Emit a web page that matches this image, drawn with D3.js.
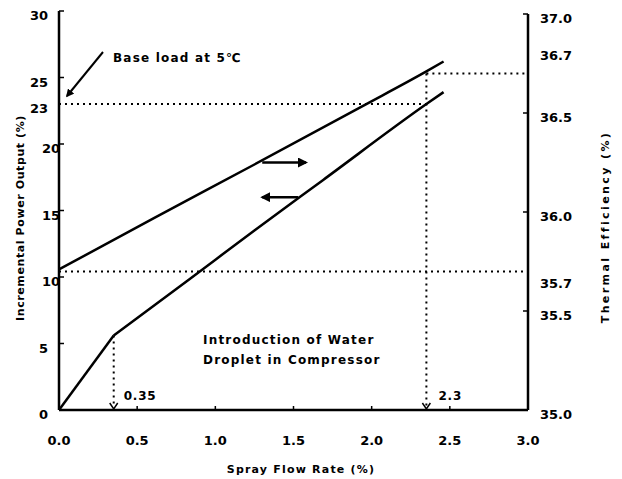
<!DOCTYPE html>
<html>
<head>
<meta charset="utf-8">
<script src="https://cdn.jsdelivr.net/npm/d3@7"></script>
<style>
  body { margin: 0; background: #fff; }
  svg text { font-family: "DejaVu Sans", sans-serif; font-weight: bold; fill: #000; }
</style>
</head>
<body>
<div id="chart"></div>
<script>
// 資料
const sprayRate = [0, 0.35, 0.83, 1.25, 1.69, 2.35, 2.46];
const powerOutput = [0, 5.6, 9.8, 13.5, 17.3, 23.0, 23.9];
const effRate = [0, 0.61, 1.25, 1.93, 2.35, 2.46];
const efficiency = [35.71, 35.97, 36.24, 36.53, 36.71, 36.76];

const xTicks = [0, 0.5, 1.0, 1.5, 2.0, 2.5, 3.0];
const leftTicks = [0, 5, 10, 15, 20, 25, 30];
const rightTicks = [35.0, 35.5, 36.0, 36.5, 37.0];

// 標註
const kinkRate = 0.35, kinkPower = 5.6;
const baseRate = 2.35, basePower = 23, baseEff = 36.7, startEff = 35.7;

const width = 622, height = 479;

const svg = d3.select("#chart")
    .append("svg")
    .attr("width", width)
    .attr("height", height);

const x = d3.scaleLinear().domain([0, 3]).range([59, 528]);
const yL = d3.scaleLinear().domain([0, 30]).range([410, 11]);
const yR = d3.scaleLinear().domain([35, 37]).range([410, 14]);

// 座標軸
const axisStroke = 2.5;
svg.append("line").attr("x1", x(0)).attr("x2", x(0)).attr("y1", yL(30)).attr("y2", yL(0))
    .attr("stroke", "#000").attr("stroke-width", axisStroke);
svg.append("line").attr("x1", x(0)).attr("x2", x(3)).attr("y1", yL(0)).attr("y2", yL(0))
    .attr("stroke", "#000").attr("stroke-width", axisStroke);
svg.append("line").attr("x1", x(3)).attr("x2", x(3)).attr("y1", yR(37)).attr("y2", yR(35))
    .attr("stroke", "#000").attr("stroke-width", axisStroke);

// x 軸刻度
svg.append("g").selectAll("line").data(xTicks.slice(1, -1)).join("line")
    .attr("x1", d => x(d)).attr("x2", d => x(d))
    .attr("y1", yL(0)).attr("y2", yL(0) - 4)
    .attr("stroke", "#000").attr("stroke-width", 1.5);
svg.append("g").selectAll("text").data(xTicks).join("text")
    .attr("x", d => x(d)).attr("y", 445)
    .attr("text-anchor", "middle").attr("font-size", 13)
    .text(d => d.toFixed(1));

// 左軸刻度
svg.append("g").selectAll("line").data(leftTicks.slice(1)).join("line")
    .attr("x1", x(0)).attr("x2", x(0) + 5)
    .attr("y1", d => yL(d)).attr("y2", d => yL(d))
    .attr("stroke", "#000").attr("stroke-width", 1.5);
svg.append("g").selectAll("text").data(leftTicks.concat([basePower])).join("text")
    .attr("x", d => (d >= 10 && d <= 20 ? 60 : 48))
    .attr("y", d => yL(d) + 9)
    .attr("text-anchor", "end").attr("font-size", 13)
    .text(d => d);

// 右軸刻度
svg.append("g").selectAll("line").data(rightTicks.slice(1)).join("line")
    .attr("x1", x(3)).attr("x2", x(3) - 5)
    .attr("y1", d => yR(d)).attr("y2", d => yR(d))
    .attr("stroke", "#000").attr("stroke-width", 1.5);
svg.append("g").selectAll("text").data(rightTicks).join("text")
    .attr("x", 540).attr("y", d => yR(d) + 9)
    .attr("font-size", 13)
    .text(d => d.toFixed(1));
svg.append("text").attr("x", 540).attr("y", yR(baseEff) - 13).attr("font-size", 13).text(baseEff.toFixed(1));
svg.append("text").attr("x", 540).attr("y", yR(startEff) + 17).attr("font-size", 13).text(startEff.toFixed(1));

// 軸標題
svg.append("text").attr("x", 301).attr("y", 473).attr("text-anchor", "middle")
    .attr("font-size", 11).attr("letter-spacing", 1.2).text("Spray Flow Rate (%)");
svg.append("text").attr("transform", "translate(24,218) rotate(-90)").attr("text-anchor", "middle")
    .attr("font-size", 11).attr("letter-spacing", 0.6).text("Incremental Power Output (%)");
svg.append("text").attr("transform", "translate(609,227) rotate(-90)").attr("text-anchor", "middle")
    .attr("font-size", 11).attr("letter-spacing", 2.4).text("Thermal Efficiency (%)");

// 虛線
const dotted = (x1, y1, x2, y2) => svg.append("line")
    .attr("x1", x1).attr("y1", y1).attr("x2", x2).attr("y2", y2)
    .attr("stroke", "#000").attr("stroke-width", 2).attr("stroke-dasharray", "2,4");
dotted(x(0), yL(basePower), x(baseRate), yL(basePower));
dotted(x(baseRate), yR(baseEff), x(3), yR(baseEff));
dotted(x(0), yR(startEff), x(3), yR(startEff));
dotted(x(baseRate), yR(baseEff), x(baseRate), yL(0) - 3);
dotted(x(kinkRate), yL(kinkPower), x(kinkRate), yL(0) - 3);

// 小箭頭
[kinkRate, baseRate].forEach(r => {
    svg.append("path")
        .attr("d", `M${x(r) - 4},${yL(0) - 7}L${x(r)},${yL(0) - 1}L${x(r) + 4},${yL(0) - 7}`)
        .attr("fill", "none").attr("stroke", "#000").attr("stroke-width", 1.5);
});
svg.append("text").attr("x", x(kinkRate) + 10).attr("y", 400).attr("font-size", 12)
    .attr("letter-spacing", 0.8).text(kinkRate.toFixed(2));
svg.append("text").attr("x", x(baseRate) + 12).attr("y", 400).attr("font-size", 12)
    .attr("letter-spacing", 0.8).text("2.3");

// 曲線
const line = d3.line().curve(d3.curveMonotoneX);
svg.append("path")
    .attr("d", d3.line()(sprayRate.slice(0, 2).map((r, i) => [x(r), yL(powerOutput[i])])))
    .attr("fill", "none").attr("stroke", "#000").attr("stroke-width", 2.5);
svg.append("path")
    .attr("d", line(sprayRate.slice(1).map((r, i) => [x(r), yL(powerOutput[i + 1])])))
    .attr("fill", "none").attr("stroke", "#000").attr("stroke-width", 2.5);
svg.append("path")
    .attr("d", line(effRate.map((r, i) => [x(r), yR(efficiency[i])])))
    .attr("fill", "none").attr("stroke", "#000").attr("stroke-width", 2.5);

// 箭頭
svg.append("defs").append("marker")
    .attr("id", "head").attr("viewBox", "0 0 10 10")
    .attr("refX", 8).attr("refY", 5)
    .attr("markerWidth", 4).attr("markerHeight", 4)
    .attr("orient", "auto-start-reverse")
    .append("path").attr("d", "M0,0L10,5L0,10z").attr("fill", "#000");

const arrow = (x1, y1, x2, y2, w) => svg.append("line")
    .attr("x1", x1).attr("y1", y1).attr("x2", x2).attr("y2", y2)
    .attr("stroke", "#000").attr("stroke-width", w).attr("marker-end", "url(#head)");
arrow(x(1.3), yR(36.25), x(1.58), yR(36.25), 2.5);
arrow(x(1.53), yL(16), x(1.3), yL(16), 2.5);
arrow(103, 52, 67, 96, 2);

// 文字標註
svg.append("text").attr("x", 113).attr("y", 62).attr("font-size", 12)
    .attr("letter-spacing", 1.2).text("Base load at 5℃");
svg.append("text").attr("x", 203).attr("y", 344).attr("font-size", 12)
    .attr("letter-spacing", 1.2).text("Introduction of Water");
svg.append("text").attr("x", 203).attr("y", 364).attr("font-size", 12)
    .attr("letter-spacing", 1.2).text("Droplet in Compressor");
</script>
</body>
</html>
